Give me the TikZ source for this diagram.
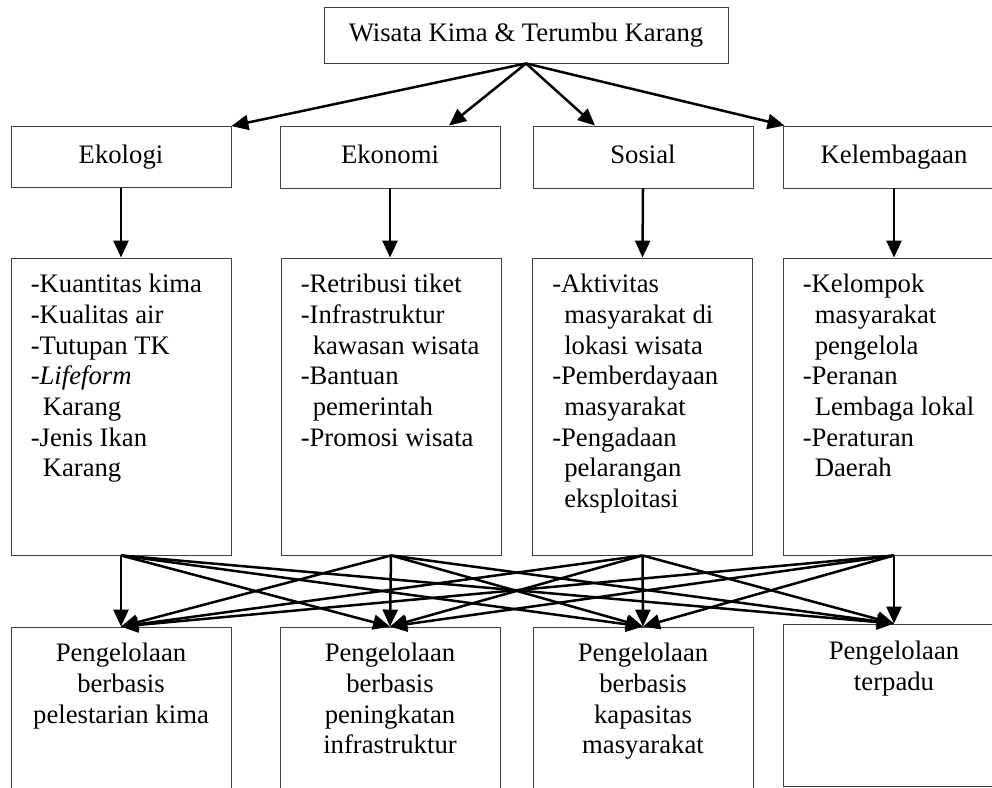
\documentclass[tikz,border=0pt]{standalone}
\usepackage{fontspec}
\setmainfont{Liberation Serif}
\usetikzlibrary{arrows.meta}
\begin{document}
\begin{tikzpicture}[x=1pt,y=-1pt,
  box/.style={draw=black!75, line width=0.9pt, rectangle, inner sep=0pt},
  lbl/.style={font=\fontsize{26.7}{30.7}\selectfont, text height=18pt, text depth=6pt},
  arr/.style={line width=2.5pt, -{Triangle[length=17pt,width=15pt]}},
  list/.style={font=\fontsize{26.7}{30.7}\selectfont, align=left, inner sep=0pt, anchor=north west},
  res/.style={font=\fontsize{26.7}{30.7}\selectfont, align=center, inner sep=0pt, anchor=north}
]
\useasboundingbox (0,0) rectangle (992,787);
\clip (0,0) rectangle (992,787);

% top
\node[box, lbl, minimum width=404pt, minimum height=56pt] (top) at (526,35) {Wisata Kima \& Terumbu Karang};

% level 2
\node[box, lbl, minimum width=220pt, minimum height=61pt] (eko) at (121,157) {Ekologi};
\node[box, lbl, minimum width=220pt, minimum height=62pt] (ekn) at (390,157) {Ekonomi};
\node[box, lbl, minimum width=220pt, minimum height=62pt] (sos) at (643,157) {Sosial};
\node[box, lbl, minimum width=222pt, minimum height=62pt] (kel) at (894,157) {Kelembagaan};

% content boxes
\node[box, minimum width=220pt, minimum height=297pt] (ekoL) at (121,406.5) {};
\node[box, minimum width=220pt, minimum height=297pt] (eknL) at (391,406.5) {};
\node[box, minimum width=220pt, minimum height=297pt] (sosL) at (642.5,406.5) {};
\node[box, minimum width=222pt, minimum height=297pt] (kelL) at (894,406.5) {};

\node[list] (ekoT) at ([shift={(20,11)}]ekoL.north west) {\rule{0pt}{24pt}-Kuantitas kima\\-Kualitas air\\-Tutupan TK\\-\textit{Lifeform}\\\hspace*{12pt}Karang\\-Jenis Ikan\\\hspace*{12pt}Karang};
\node[list] (eknT) at ([shift={(20,11)}]eknL.north west) {\rule{0pt}{24pt}-Retribusi tiket\\-Infrastruktur\\\hspace*{12pt}kawasan wisata\\-Bantuan\\\hspace*{12pt}pemerintah\\-Promosi wisata};
\node[list] (sosT) at ([shift={(20,11)}]sosL.north west) {\rule{0pt}{24pt}-Aktivitas\\\hspace*{12pt}masyarakat di\\\hspace*{12pt}lokasi wisata\\-Pemberdayaan\\\hspace*{12pt}masyarakat\\-Pengadaan\\\hspace*{12pt}pelarangan\\\hspace*{12pt}eksploitasi};
\node[list] (kelT) at ([shift={(20,11)}]kelL.north west) {\rule{0pt}{24pt}-Kelompok\\\hspace*{12pt}masyarakat\\\hspace*{12pt}pengelola\\-Peranan\\\hspace*{12pt}Lembaga lokal\\-Peraturan\\\hspace*{12pt}Daerah};

% bottom boxes
\node[box, minimum width=220pt, minimum height=173pt] (b1) at (121,713.5) {};
\node[box, minimum width=220pt, minimum height=173pt] (b2) at (390,713.5) {};
\node[box, minimum width=220pt, minimum height=173pt] (b3) at (643,713.5) {};
\node[box, minimum width=222pt, minimum height=162pt] (b4) at (894,705) {};

\node[res] (b1T) at ([shift={(0,11)}]b1.north) {\rule{0pt}{24pt}Pengelolaan\\berbasis\\pelestarian kima};
\node[res] (b2T) at ([shift={(0,11)}]b2.north) {\rule{0pt}{24pt}Pengelolaan\\berbasis\\peningkatan\\infrastruktur};
\node[res] (b3T) at ([shift={(0,11)}]b3.north) {\rule{0pt}{24pt}Pengelolaan\\berbasis\\kapasitas\\masyarakat};
\node[res] (b4T) at ([shift={(0,12)}]b4.north) {\rule{0pt}{24pt}Pengelolaan\\terpadu};

% arrows top -> level 2
\draw[arr] (top.south) -- (eko.north east);
\draw[arr] (top.south) -- ([xshift=59]ekn.north);
\draw[arr] (top.south) -- ([xshift=-48]sos.north);
\draw[arr] (top.south) -- ([xshift=2]kel.north west);

% level 2 -> content
\draw[arr] (eko.south) -- (ekoL.north);
\draw[arr] (ekn.south) -- ([xshift=-1]eknL.north);
\draw[arr] (sos.south) -- (sosL.north);
\draw[arr] (kel.south) -- (kelL.north);

% content -> results
\foreach \s in {ekoL,eknL,sosL,kelL}{
  \foreach \t in {b1,b2,b3,b4}{
    \draw[arr] (\s.south) -- (\t.north);
  }
}
\end{tikzpicture}
\end{document}
